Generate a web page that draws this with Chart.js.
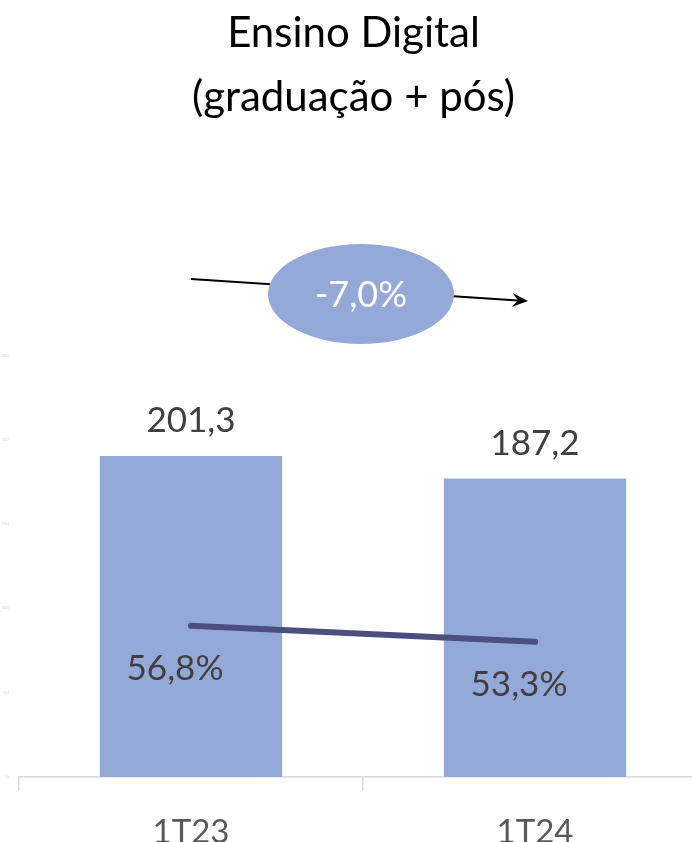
<!DOCTYPE html>
<html>
<head>
<meta charset="utf-8">
<script src="https://cdn.jsdelivr.net/npm/chart.js@4"></script>
<style>
html, body { margin: 0; padding: 0; background: #fff; overflow: hidden; }
.chart_place { width: 707px; height: 842px; }
</style>
</head>
<body>
<div class="chart_place"><canvas id="myChart"></canvas></div>
<script>
const categories = ['1T23', '1T24']
const receita = [201.3, 187.2]
const margem = [56.8, 53.3]
const variacao = '-7,0%'
const titulo = ['Ensino Digital', '(graduação + pós)']

const FONT = 'Lato, "Open Sans", sans-serif'
const BAR = '#95a9d9'
const LINE = '#4a4f80'

const fmt = v => v.toFixed(1).replace('.', ',')

// labels and the -7,0% badge, drawn from element positions
const extras = {
    id: 'extras',
    afterDatasetsDraw(chart) {
        const ctx = chart.ctx
        const x = chart.scales.x
        const area = chart.chartArea
        ctx.save()
        ctx.textAlign = 'center'
        ctx.textBaseline = 'middle'
        ctx.fillStyle = '#404040'
        ctx.font = '35px ' + FONT

        chart.getDatasetMeta(1).data.forEach((bar, i) => {
            ctx.fillText(fmt(receita[i]), bar.x, bar.y - 35)
        })
        chart.getDatasetMeta(0).data.forEach((pt, i) => {
            ctx.fillText(fmt(margem[i]) + '%', pt.x - 16, pt.y + 43)
        })

        // arrow
        const x1 = x.getPixelForValue(0), x2 = x.getPixelForValue(1)
        const ay1 = area.top - 77, ay2 = area.top - 55
        const ex = x2 - 7
        ctx.strokeStyle = '#000'
        ctx.lineWidth = 2
        ctx.beginPath()
        ctx.moveTo(x1, ay1)
        ctx.lineTo(ex - 10, ay2 - 0.6)
        ctx.stroke()
        const ang = Math.atan2(ay2 - ay1, ex - x1)
        ctx.fillStyle = '#000'
        ctx.beginPath()
        ctx.moveTo(ex, ay2)
        ctx.lineTo(ex - 16 * Math.cos(ang) + 7 * Math.sin(ang), ay2 - 16 * Math.sin(ang) - 7 * Math.cos(ang))
        ctx.lineTo(ex - 10 * Math.cos(ang), ay2 - 10 * Math.sin(ang))
        ctx.lineTo(ex - 16 * Math.cos(ang) - 7 * Math.sin(ang), ay2 - 16 * Math.sin(ang) + 7 * Math.cos(ang))
        ctx.closePath()
        ctx.fill()

        // ellipse
        const cx = (x1 + x2) / 2 - 2
        const cy = area.top - 62
        ctx.fillStyle = BAR
        ctx.beginPath()
        ctx.ellipse(cx, cy, 93, 50, 0, 0, Math.PI * 2)
        ctx.fill()
        ctx.fillStyle = '#fff'
        ctx.font = '36px ' + FONT
        ctx.fillText(variacao, cx, cy + 1)
        ctx.restore()
    }
}

const ctx = document.getElementById('myChart').getContext('2d')
const myChart = new Chart(ctx, {
    data: {
        labels: categories,
        datasets: [{
            type: 'line',
            data: margem,
            yAxisID: 'y2',
            borderColor: LINE,
            borderWidth: 6,
            borderCapStyle: 'round',
            pointRadius: 0,
            fill: false,
            order: 0
        }, {
            type: 'bar',
            data: receita,
            yAxisID: 'y',
            backgroundColor: BAR,
            categoryPercentage: 1,
            barPercentage: 0.53,
            order: 1
        }]
    },
    options: {
        responsive: true,
        maintainAspectRatio: false,
        animation: false,
        layout: { padding: 0 },
        plugins: {
            legend: { display: false },
            tooltip: { enabled: false },
            title: {
                display: true,
                text: titulo,
                color: '#000',
                font: { family: FONT, size: 42, weight: 'normal', lineHeight: 1.524 },
                padding: { top: 1, bottom: 227 }
            }
        },
        scales: {
            x: {
                grid: { drawOnChartArea: false, drawTicks: true, tickLength: 14, offset: true, color: '#d9d9d9', lineWidth: 1.5 },
                border: { color: '#d9d9d9', width: 1.5 },
                ticks: { color: '#595959', font: { family: FONT, size: 33 }, padding: 22 },
                afterFit: s => { s.height = 65 }
            },
            y: {
                min: 0,
                max: 264,
                ticks: { stepSize: 52.8, color: '#cfcfcf', font: { size: 3 }, padding: 2, callback: v => fmt(v) },
                grid: { display: false },
                border: { display: false },
                afterFit: s => { s.width = 19 }
            },
            y2: {
                display: false,
                min: 23.8,
                max: 115.7
            }
        }
    },
    plugins: [extras]
})
</script>
</body>
</html>
